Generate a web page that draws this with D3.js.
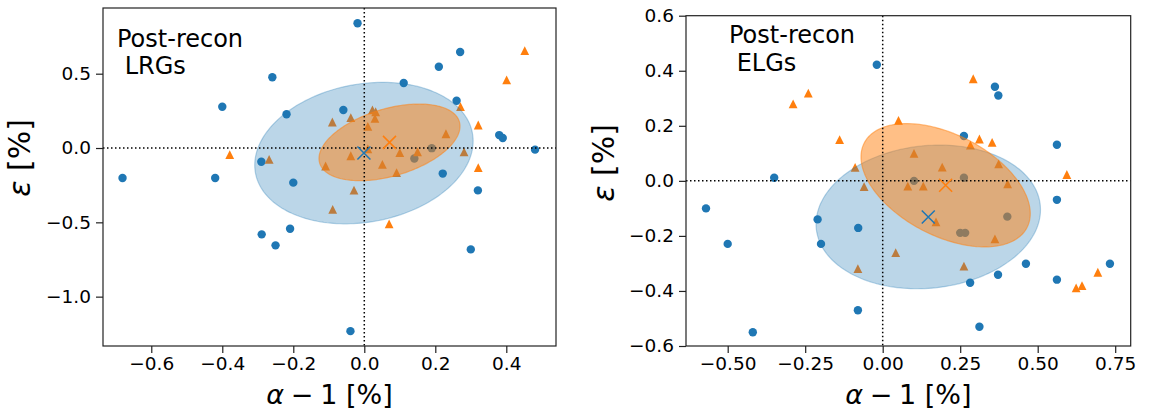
<!DOCTYPE html>
<html><head><meta charset="utf-8">
<script src="https://cdn.jsdelivr.net/npm/d3@7"></script>
<style>
body{margin:0;background:#fff}
svg{display:block}
text{font-family:"DejaVu Sans",sans-serif;fill:#000}
</style>
</head><body>
<svg id="chart" width="1152" height="414"></svg>
<script>
// ---------- data ----------
// LRG panel
const lrgCircles = [
  [-0.681,-0.202],[-0.40,0.278],[-0.259,0.476],[-0.219,0.227],[-0.059,0.256],
  [-0.42,-0.202],[-0.29,-0.092],[-0.20,-0.233],[-0.289,-0.581],[-0.25,-0.655],
  [-0.209,-0.543],[-0.039,-1.232],[-0.019,0.839],[0.27,0.646],[0.21,0.547],
  [0.111,0.437],[0.26,0.318],[0.38,0.087],[0.39,0.067],[0.481,-0.011],
  [0.221,-0.172],[0.32,-0.285],[0.30,-0.682],[0.19,-0.001],[0.141,-0.071]
];
const lrgTriangles = [
  [-0.379,-0.045],[-0.268,-0.076],[-0.09,0.175],[-0.038,0.205],[0.023,0.256],
  [0.032,0.244],[0.03,0.2],[0.01,0.145],[0.01,-0.005],[-0.038,-0.052],
  [-0.109,-0.121],[0.051,-0.11],[0.091,-0.165],[0.1,-0.031],[0.15,-0.026],
  [0.23,0.096],[0.281,-0.026],[0.271,0.278],[0.321,0.155],[0.321,-0.132],
  [0.401,0.458],[0.452,0.655],[0.07,-0.511],[-0.029,-0.283],[-0.089,-0.413]
];
// ellipse: [meanX, meanY, sigmaX, sigmaY, rho]
const lrgBlueEllipse = [-0.001,-0.034,0.3076,0.476,0.17];
const lrgOrangeEllipse = [0.071,0.038,0.1986,0.258,0.42];
const lrgXTicks = [-0.6,-0.4,-0.2,0.0,0.2,0.4];
const lrgXTickLabels = ["\u22120.6","\u22120.4","\u22120.2","0.0","0.2","0.4"];
const lrgYTicks = [-1.0,-0.5,0.0,0.5];
const lrgYTickLabels = ["\u22121.0","\u22120.5","0.0","0.5"];
const lrgXDomain = [-0.736,0.54];
const lrgYDomain = [-1.332,0.942];

// ELG panel
const elgCircles = [
  [-0.019,0.422],[-0.35,0.011],[-0.57,-0.1],[-0.5,-0.229],[-0.21,-0.14],
  [-0.199,-0.229],[-0.079,-0.171],[-0.08,-0.47],[-0.419,-0.55],[0.362,0.342],
  [0.373,0.31],[0.262,0.163],[0.562,0.131],[0.562,-0.069],[0.733,-0.301],
  [0.562,-0.359],[0.462,-0.301],[0.372,-0.341],[0.282,-0.37],[0.312,-0.53],
  [0.101,0.0],[0.262,0.011],[0.402,-0.13],[0.25,-0.189],[0.266,-0.189]
];
const elgTriangles = [
  [-0.289,0.28],[-0.24,0.319],[-0.139,0.15],[-0.089,0.049],[0.051,0.22],
  [0.292,0.371],[0.312,0.152],[0.353,0.14],[0.283,0.13],[0.101,0.1],
  [0.192,0.05],[0.374,0.062],[0.594,0.023],[0.081,-0.019],[0.131,-0.019],
  [0.403,-0.011],[0.172,-0.149],[0.362,-0.211],[0.262,-0.31],[0.694,-0.332],
  [0.624,-0.389],[0.643,-0.381],[-0.06,-0.021],[0.042,-0.261],[-0.08,-0.319]
];
const elgBlueEllipse = [0.147,-0.131,0.362,0.261,0.10];
const elgOrangeEllipse = [0.203,-0.016,0.273,0.224,-0.46];
const elgXTicks = [-0.5,-0.25,0.0,0.25,0.5,0.75];
const elgXTickLabels = ["\u22120.50","\u22120.25","0.00","0.25","0.50","0.75"];
const elgYTicks = [-0.6,-0.4,-0.2,0.0,0.2,0.4,0.6];
const elgYTickLabels = ["\u22120.6","\u22120.4","\u22120.2","0.0","0.2","0.4","0.6"];
const elgXDomain = [-0.6345,0.80];
const elgYDomain = [-0.6,0.6];

const panelTitles = [["Post-recon"," LRGs"],["Post-recon"," ELGs"]];

// ---------- drawing ----------
const BLUE = "#1f77b4", ORANGE = "#ff7f0e";
const svg = d3.select("#chart");

const panels = [
  {box:{l:103,r:556,t:8,b:346}, circles:lrgCircles, tris:lrgTriangles,
   be:lrgBlueEllipse, oe:lrgOrangeEllipse, xt:lrgXTicks, xl:lrgXTickLabels,
   yt:lrgYTicks, yl:lrgYTickLabels, xd:lrgXDomain, yd:lrgYDomain,
   title:panelTitles[0], titlePos:[117,46.5], ylabY:158, ylabX:30},
  {box:{l:686,r:1130.7,t:15.7,b:346}, circles:elgCircles, tris:elgTriangles,
   be:elgBlueEllipse, oe:elgOrangeEllipse, xt:elgXTicks, xl:elgXTickLabels,
   yt:elgYTicks, yl:elgYTickLabels, xd:elgXDomain, yd:elgYDomain,
   title:panelTitles[1], titlePos:[729,43.3], ylabY:163, ylabX:614}
];

function ellipsePts(e){
  const [mx,my,sx,sy,rho] = e;
  const k = Math.sqrt(1-rho*rho);
  return d3.range(0,201).map(i=>{
    const t = i/200*2*Math.PI;
    return [mx+sx*Math.cos(t), my+sy*(rho*Math.cos(t)+k*Math.sin(t))];
  });
}

panels.forEach((p,i)=>{
  const x = d3.scaleLinear().domain(p.xd).range([p.box.l,p.box.r]);
  const y = d3.scaleLinear().domain(p.yd).range([p.box.b,p.box.t]);
  const clipId = "clip"+i;
  svg.append("clipPath").attr("id",clipId).append("rect")
    .attr("x",p.box.l).attr("y",p.box.t)
    .attr("width",p.box.r-p.box.l).attr("height",p.box.b-p.box.t);
  const g = svg.append("g").attr("clip-path",`url(#${clipId})`);

  // points
  g.selectAll("circle.pt").data(p.circles).join("circle")
    .attr("class","pt").attr("cx",d=>x(d[0])).attr("cy",d=>y(d[1]))
    .attr("r",4.2).attr("fill",BLUE);
  const h = 4.4;
  g.selectAll("path.tri").data(p.tris).join("path")
    .attr("class","tri")
    .attr("d",`M0,${-h}L${h},${h}L${-h},${h}Z`)
    .attr("transform",d=>`translate(${x(d[0])},${y(d[1])})`)
    .attr("fill",ORANGE);

  // ellipses
  const line = d3.line().x(d=>x(d[0])).y(d=>y(d[1])).curve(d3.curveLinearClosed);
  g.append("path").attr("d",line(ellipsePts(p.be)))
    .attr("fill",BLUE).attr("fill-opacity",0.3)
    .attr("stroke",BLUE).attr("stroke-opacity",0.3).attr("stroke-width",1.2);
  g.append("path").attr("d",line(ellipsePts(p.oe)))
    .attr("fill",ORANGE).attr("fill-opacity",0.5)
    .attr("stroke",ORANGE).attr("stroke-opacity",0.5).attr("stroke-width",1.2);

  // dotted zero lines
  g.append("line").attr("x1",x(0)).attr("x2",x(0)).attr("y1",p.box.t).attr("y2",p.box.b)
    .attr("stroke","#000").attr("stroke-width",1.5).attr("stroke-dasharray","1.5 2.5");
  g.append("line").attr("y1",y(0)).attr("y2",y(0)).attr("x1",p.box.l).attr("x2",p.box.r)
    .attr("stroke","#000").attr("stroke-width",1.5).attr("stroke-dasharray","1.5 2.5");

  // mean crosses
  const s = 6.5;
  [[p.be,BLUE],[p.oe,ORANGE]].forEach(([e,c])=>{
    g.append("path")
      .attr("d",`M${-s},${-s}L${s},${s}M${-s},${s}L${s},${-s}`)
      .attr("transform",`translate(${x(e[0])},${y(e[1])})`)
      .attr("stroke",c).attr("stroke-width",1.5).attr("fill","none");
  });

  // frame
  svg.append("rect").attr("x",p.box.l).attr("y",p.box.t)
    .attr("width",p.box.r-p.box.l).attr("height",p.box.b-p.box.t)
    .attr("fill","none").attr("stroke","#222").attr("stroke-width",1.2);

  // axes
  const xa = svg.append("g").attr("transform",`translate(0,${p.box.b})`)
    .call(d3.axisBottom(x).tickValues(p.xt).tickFormat((d,j)=>p.xl[j])
      .tickSizeInner(7).tickSizeOuter(0).tickPadding(4));
  const ya = svg.append("g").attr("transform",`translate(${p.box.l},0)`)
    .call(d3.axisLeft(y).tickValues(p.yt).tickFormat((d,j)=>p.yl[j])
      .tickSizeInner(7).tickSizeOuter(0).tickPadding(5));
  [xa,ya].forEach(a=>{
    a.select(".domain").remove();
    a.selectAll(".tick line").attr("stroke","#222").attr("stroke-width",1.2);
    a.selectAll(".tick text").attr("font-family","DejaVu Sans").attr("font-size",18.5).attr("fill","#000");
  });

  // axis labels
  const cx = (p.box.l+p.box.r)/2;
  const xlab = svg.append("text").attr("x",cx).attr("y",404)
    .attr("text-anchor","middle").attr("font-size",27);
  xlab.append("tspan").attr("font-style","italic").text("\u03b1");
  xlab.append("tspan").text("\u2005\u2212\u20051 [%]");
  const ylab = svg.append("text")
    .attr("transform",`translate(${p.ylabX},${p.ylabY}) rotate(-90)`)
    .attr("text-anchor","middle").attr("font-size",30);
  ylab.append("tspan").attr("font-style","italic").text("\u03b5");
  ylab.append("tspan").text(" [%]");

  // title text
  const tt = svg.append("text").attr("x",p.titlePos[0]).attr("y",p.titlePos[1])
    .attr("font-size",24).attr("xml:space","preserve");
  tt.append("tspan").attr("x",p.titlePos[0]).text(p.title[0]);
  tt.append("tspan").attr("x",p.titlePos[0]).attr("dy",27.4).text(p.title[1]);
});
</script>
</body></html>
